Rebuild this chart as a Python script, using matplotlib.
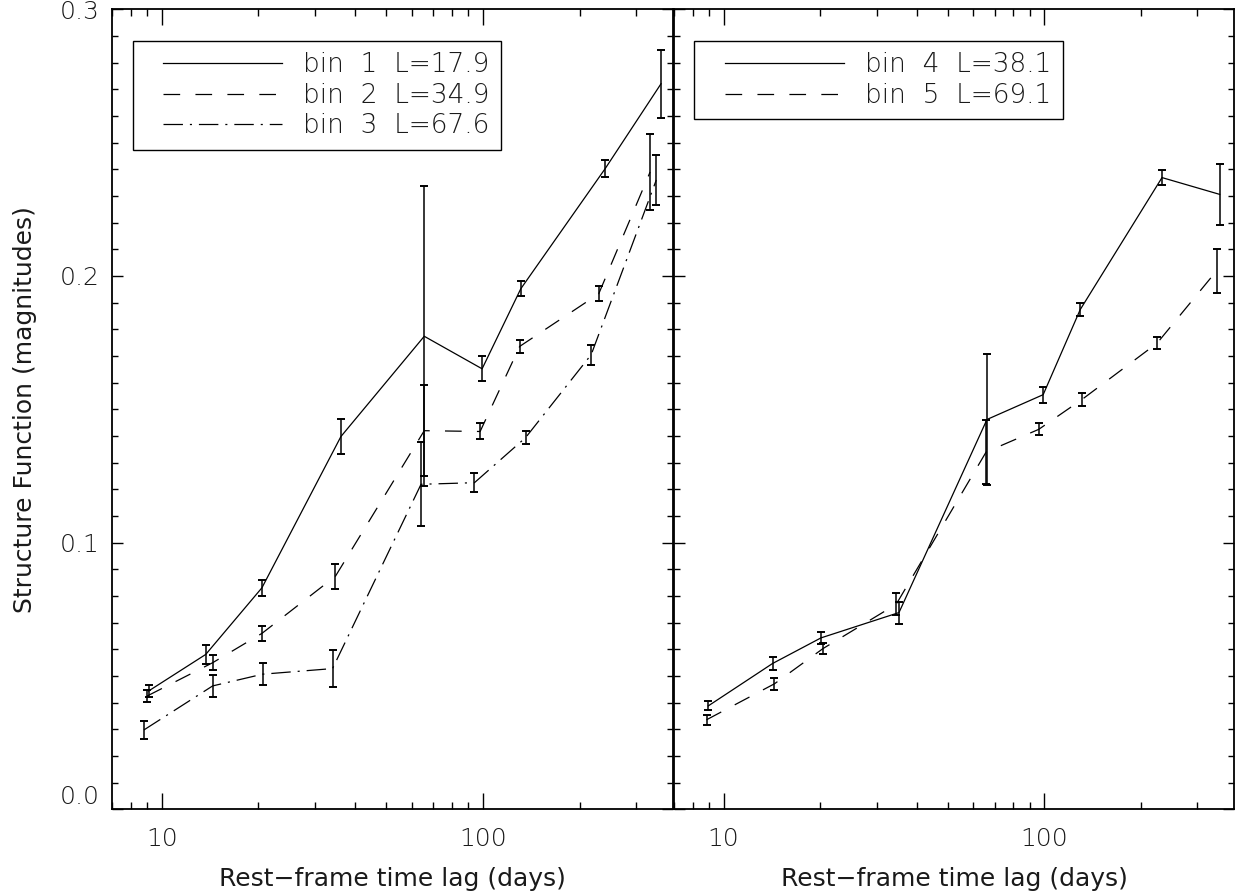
import matplotlib
matplotlib.use('Agg')
import matplotlib.pyplot as plt
from matplotlib.ticker import LogLocator, NullFormatter, FixedLocator, FixedFormatter, MultipleLocator
from matplotlib.legend_handler import HandlerLine2D

# ---------------- data ----------------
# left panel
lag_b1 = [9.1, 13.7, 20.5, 36.1, 65.6, 99.3, 131, 240, 358]
sf_b1 = [0.0444, 0.0581, 0.0831, 0.1398, 0.1774, 0.1652, 0.1952, 0.2403, 0.2721]
err_b1 = [0.0024, 0.0036, 0.0030, 0.0064, 0.0563, 0.0047, 0.0028, 0.0033, 0.0127]

lag_b2 = [9.0, 14.4, 20.5, 34.7, 65.6, 97.9, 130, 229, 331]
sf_b2 = [0.0425, 0.0550, 0.0660, 0.0874, 0.1420, 0.1417, 0.1736, 0.1933, 0.2390]
err_b2 = [0.0022, 0.0028, 0.0027, 0.0048, 0.0170, 0.0030, 0.0023, 0.0028, 0.0142]

lag_b3 = [8.8, 14.4, 20.6, 34.0, 64.1, 94.0, 135.6, 217, 346]
sf_b3 = [0.0298, 0.0463, 0.0507, 0.0528, 0.1219, 0.1225, 0.1394, 0.1705, 0.2360]
err_b3 = [0.0033, 0.0040, 0.0042, 0.0069, 0.0158, 0.0035, 0.0025, 0.0038, 0.0094]

# right panel
lag_b4 = [8.95, 14.2, 20.1, 35.2, 66.2, 99.1, 129.3, 232.6, 352]
sf_b4 = [0.0388, 0.0547, 0.0643, 0.0738, 0.1462, 0.1555, 0.1874, 0.2369, 0.2306]
err_b4 = [0.0017, 0.0025, 0.0022, 0.0041, 0.0247, 0.0030, 0.0024, 0.0029, 0.0114]

lag_b5 = [8.84, 14.4, 20.4, 34.5, 65.8, 96.0, 131.3, 224.5, 344]
sf_b5 = [0.0336, 0.0471, 0.0603, 0.0769, 0.1340, 0.1425, 0.1538, 0.1748, 0.2019]
err_b5 = [0.0018, 0.0022, 0.0022, 0.0041, 0.0120, 0.0022, 0.0024, 0.0023, 0.0081]

labels_left = ["bin  1  L=17.9", "bin  2  L=34.9", "bin  3  L=67.6"]
labels_right = ["bin  4  L=38.1", "bin  5  L=69.1"]

xlabel = "Rest\u2212frame time lag (days)"
ylabel = "Structure Function (magnitudes)"

# ---------------- style ----------------
plt.rcParams['font.family'] = ['DejaVu Sans']
plt.rcParams['font.weight'] = 'light'
plt.rcParams['lines.scale_dashes'] = False
TXT = '#1a1a1a'
FS = 18
LFS = 19

W, H = 1235, 896
fig = plt.figure(figsize=(W / 100, H / 100), dpi=100)
fig.patch.set_facecolor('white')

bottom = 1 - 809.4 / H
top = 1 - 9.3 / H
ax1 = fig.add_axes([112 / W, bottom, (673 - 112) / W, top - bottom])
ax2 = fig.add_axes([674 / W, bottom, (1234 - 674) / W, top - bottom])

solid = dict(linestyle='-')
dashed = dict(linestyle=(0, (12, 11)))
dashdot = dict(linestyle=(0, (14, 5, 1.5, 5)))

def draw(ax, x, y, e, ls, label):
    ax.plot(x, y, color='black', lw=0.9, label=label, **ls)
    ax.errorbar(x, y, yerr=e, fmt='none', ecolor='black', elinewidth=1.1,
                capsize=2.6, capthick=1.4)

draw(ax1, lag_b1, sf_b1, err_b1, solid, labels_left[0])
draw(ax1, lag_b2, sf_b2, err_b2, dashed, labels_left[1])
draw(ax1, lag_b3, sf_b3, err_b3, dashdot, labels_left[2])
draw(ax2, lag_b4, sf_b4, err_b4, solid, labels_right[0])
draw(ax2, lag_b5, sf_b5, err_b5, dashed, labels_right[1])

for ax in (ax1, ax2):
    ax.set_xscale('log')
    ax.set_xlim(7, 390)
    ax.set_ylim(0, 0.3)
    ax.xaxis.set_major_locator(FixedLocator([10, 100]))
    ax.xaxis.set_major_formatter(FixedFormatter(['10', '100']))
    ax.xaxis.set_minor_locator(LogLocator(base=10, subs=range(2, 10)))
    ax.xaxis.set_minor_formatter(NullFormatter())
    ax.yaxis.set_major_locator(MultipleLocator(0.1))
    ax.yaxis.set_minor_locator(MultipleLocator(0.01))
    ax.tick_params(axis='both', which='both', direction='in', top=True, right=True,
                   colors='black', labelcolor=TXT, labelsize=FS)
    ax.tick_params(axis='x', which='major', length=11.3, width=1.0, pad=13)
    ax.tick_params(axis='x', which='minor', length=5.3, width=1.0)
    ax.tick_params(axis='y', which='major', length=8, width=1.0, pad=9)
    ax.tick_params(axis='y', which='minor', length=4, width=1.0)
    for sp in ax.spines.values():
        sp.set_linewidth(1.3)
    ax.set_xlabel(xlabel, fontsize=FS, color=TXT, labelpad=11)
    ax.set_facecolor('white')

ax1.set_yticks([0, 0.1, 0.2, 0.3])
ax1.set_yticklabels(['0.0', '0.1', '0.2', '0.3'])
ax1.get_yticklabels()[0].set_va('bottom')
ax2.tick_params(axis='y', which='both', labelleft=False)
ax1.set_ylabel(ylabel, fontsize=FS, color=TXT, labelpad=16)

handler = {matplotlib.lines.Line2D: HandlerLine2D(xpad=0.73)}
leg_kw = dict(loc='upper left', fontsize=LFS, frameon=True, fancybox=False,
              edgecolor='black', framealpha=1, handlelength=5.25, handletextpad=0.8,
              borderpad=0.42, labelspacing=0.21, borderaxespad=0, handler_map=handler)
l1 = ax1.legend(bbox_to_anchor=(0.0367, 0.960), **leg_kw)
l2 = ax2.legend(bbox_to_anchor=(0.0366, 0.960), **leg_kw)
for leg in (l1, l2):
    leg.get_frame().set_linewidth(1.0)
    for t in leg.get_texts():
        t.set_color(TXT)

fig.savefig('out.png', dpi=100, facecolor='white')
